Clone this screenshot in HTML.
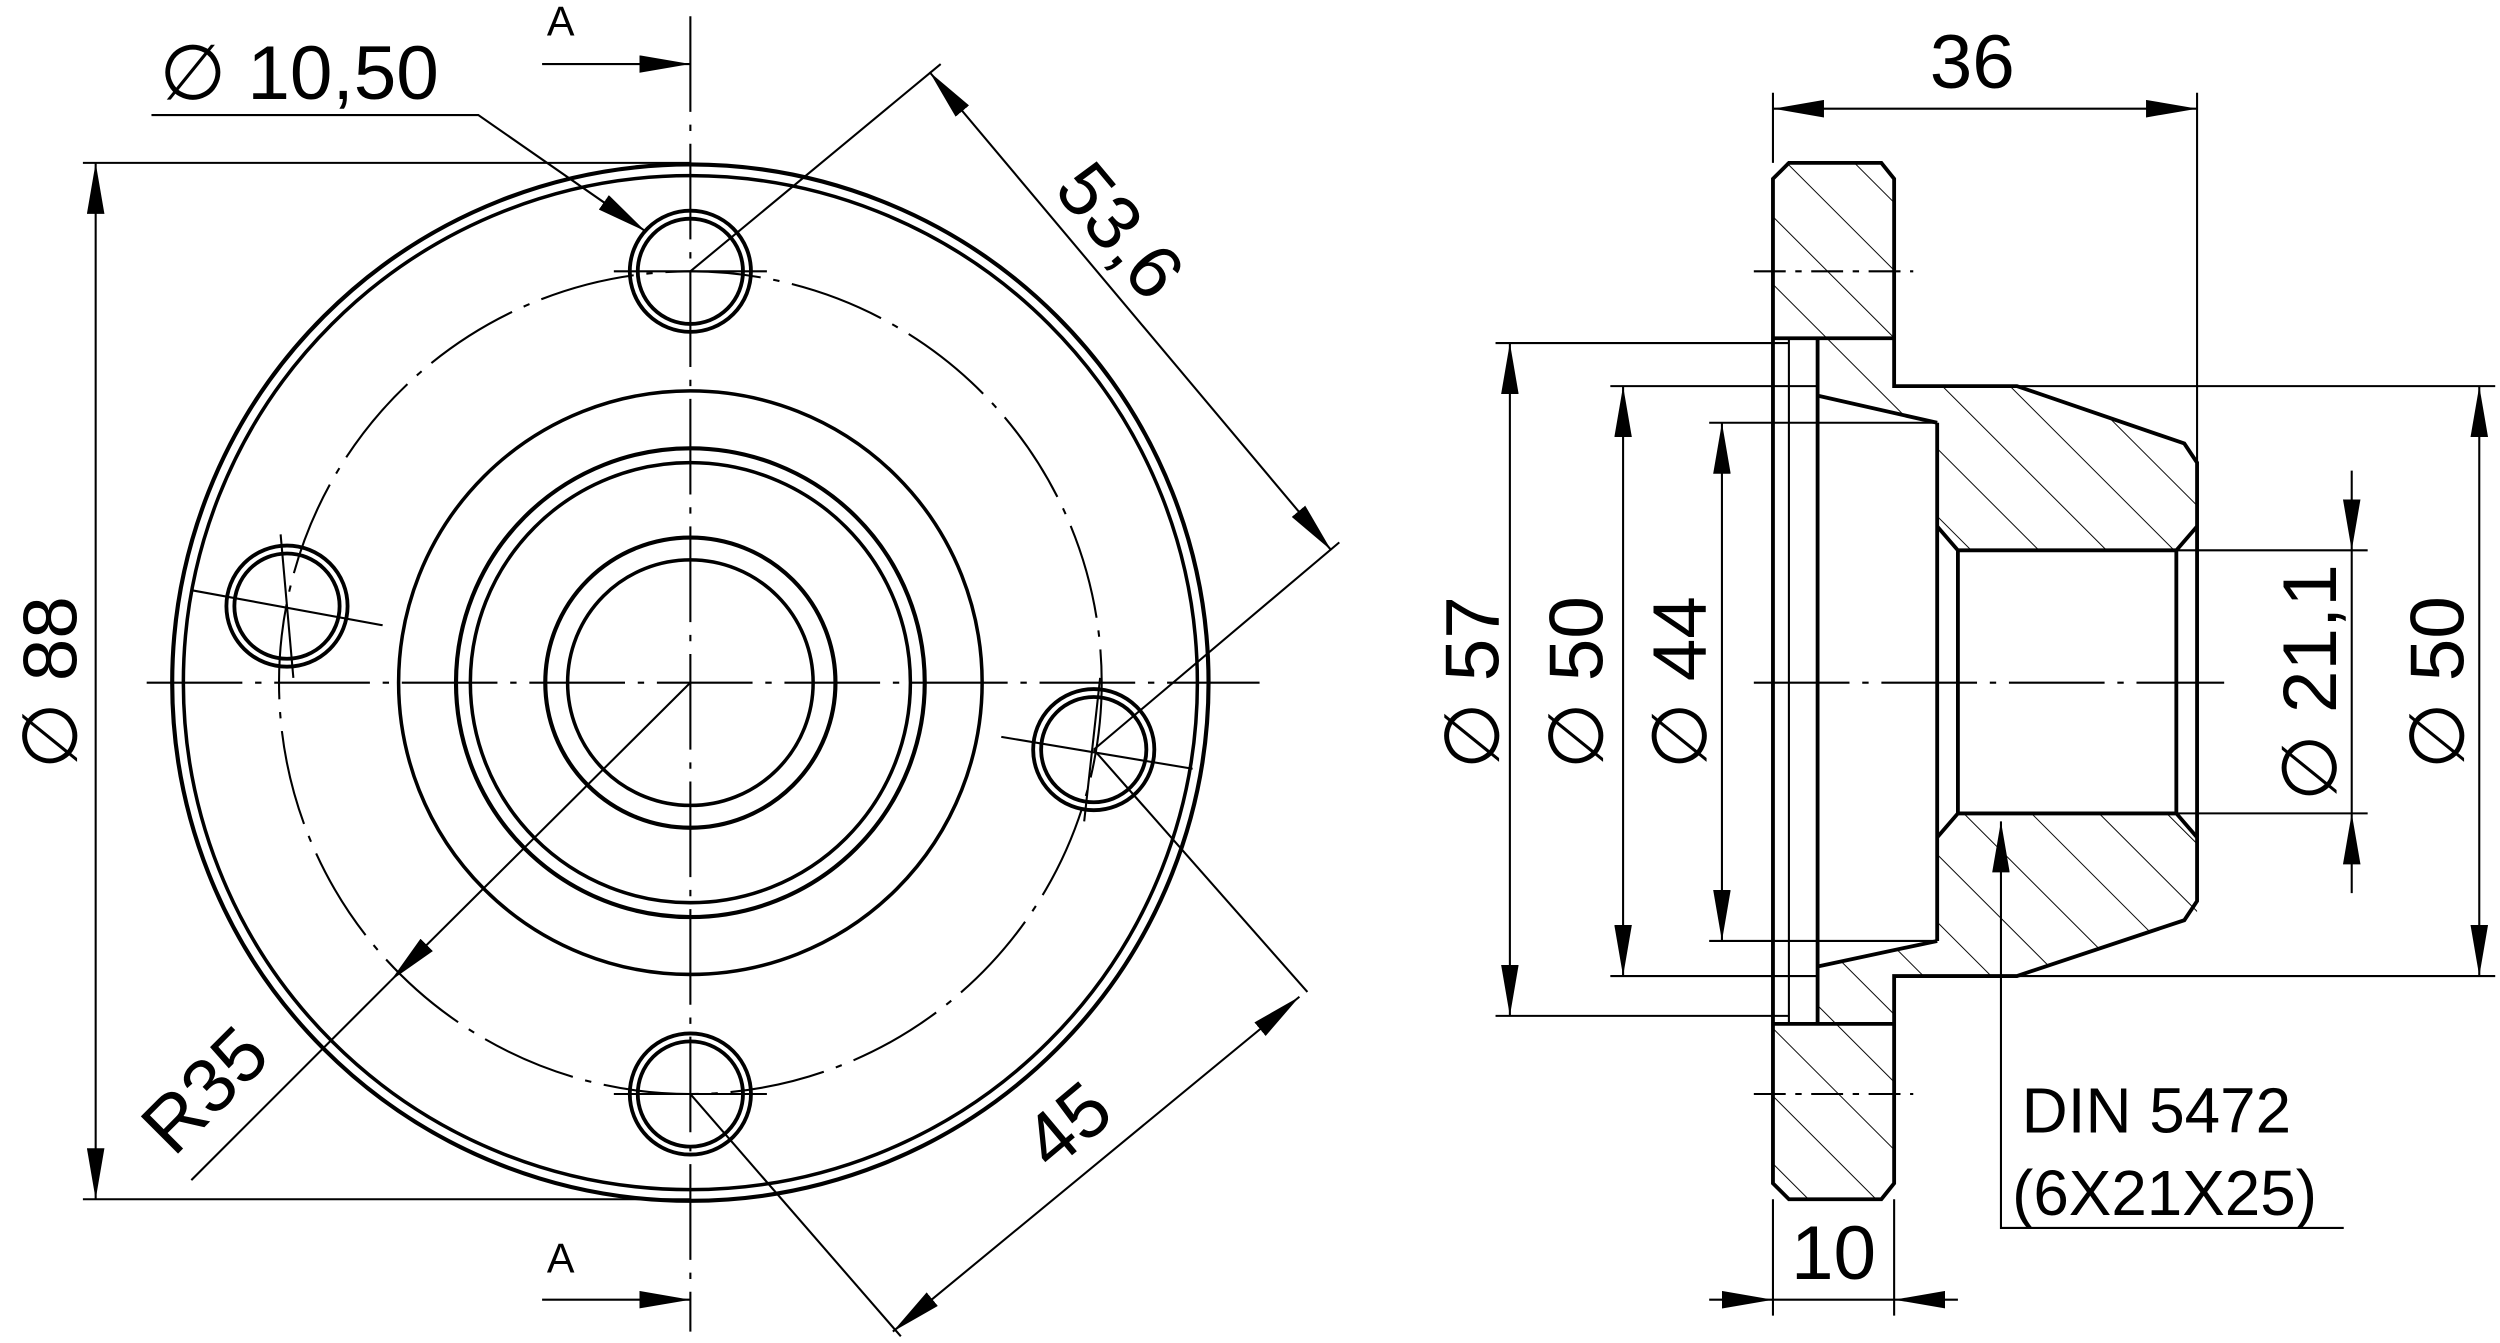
<!DOCTYPE html>
<html><head><meta charset="utf-8">
<style>
html,body{margin:0;padding:0;background:#fff;}
svg{display:block;}
text{font-family:"Liberation Sans","DejaVu Sans",sans-serif;fill:#000;}
</style></head>
<body>
<svg width="2500" height="1343" viewBox="0 0 1568 842" xmlns="http://www.w3.org/2000/svg">
<defs>
<marker id="ar" viewBox="0 0 32 11" refX="32" refY="5.5" markerWidth="32" markerHeight="11" markerUnits="userSpaceOnUse" orient="auto-start-reverse">
<path d="M0,0 L32,5.5 L0,11 Z" fill="#000"/>
</marker>
<pattern id="hat" width="30" height="30" patternUnits="userSpaceOnUse" patternTransform="rotate(-45)">
<line x1="0" y1="0" x2="0" y2="30" stroke="#000" stroke-width="1.2"/>
</pattern>
</defs>
<g fill="none" stroke="#000" stroke-width="2.2">
<!-- LEFT VIEW -->
<circle cx="433" cy="428" r="325" stroke-width="2.6"/>
<circle cx="433" cy="428" r="318"/>
<circle cx="433" cy="428" r="183"/>
<circle cx="433" cy="428" r="147" stroke-width="2.6"/>
<circle cx="433" cy="428" r="138"/>
<circle cx="433" cy="428" r="91" stroke-width="2.6"/>
<circle cx="433" cy="428" r="77"/>
<circle cx="433" cy="428" r="258" stroke-width="1.3" stroke-dasharray="60,8,4,8"/>
<g stroke-width="2.4">
<circle cx="433" cy="170" r="38"/><circle cx="433" cy="170" r="33"/>
<circle cx="433" cy="686" r="38"/><circle cx="433" cy="686" r="33"/>
<circle cx="180" cy="380" r="38"/><circle cx="180" cy="380" r="33"/>
<circle cx="686" cy="470" r="38"/><circle cx="686" cy="470" r="33"/>
</g>
<g stroke-width="1.3">
<line x1="433" y1="10" x2="433" y2="835" stroke-dasharray="60,8,4,8"/>
<line x1="92" y1="428" x2="790" y2="428" stroke-dasharray="60,8,4,8"/>
<line x1="120" y1="370" x2="240" y2="392"/><line x1="176" y1="335" x2="184" y2="425"/>
<line x1="628" y1="462" x2="748" y2="482"/><line x1="690" y1="425" x2="680" y2="515"/>
<line x1="385" y1="170" x2="481" y2="170"/><line x1="385" y1="686" x2="481" y2="686"/>
<line x1="52" y1="102" x2="433" y2="102"/><line x1="52" y1="752" x2="433" y2="752"/>
<line x1="60" y1="102" x2="60" y2="752" marker-start="url(#ar)" marker-end="url(#ar)"/>
<polyline points="95,72 300,72 405,145" marker-end="url(#ar)"/>
<line x1="340" y1="40" x2="433" y2="40" marker-end="url(#ar)"/>
<line x1="340" y1="815" x2="433" y2="815" marker-end="url(#ar)"/>
<line x1="433" y1="170" x2="590" y2="40"/>
<line x1="686" y1="470" x2="840" y2="340"/>
<line x1="583" y1="45" x2="835" y2="345" marker-start="url(#ar)" marker-end="url(#ar)"/>
<line x1="686" y1="470" x2="820" y2="622"/>
<line x1="433" y1="686" x2="565" y2="838"/>
<line x1="815" y1="625" x2="560" y2="835" marker-start="url(#ar)" marker-end="url(#ar)"/>
<line x1="433" y1="428" x2="245" y2="615" marker-end="url(#ar)"/>
<line x1="245" y1="615" x2="120" y2="740"/>
</g>

<!-- RIGHT VIEW -->
<g stroke-width="2.4">
<path d="M1112,102 L1188,102 L1188,212 L1112,212 Z" fill="url(#hat)" stroke="none"/>
<path d="M1112,642 L1188,642 L1188,752 L1112,752 Z" fill="url(#hat)" stroke="none"/>
<path d="M1188,212 L1188,242 L1265,242 L1378,280 L1378,345 L1228,345 L1215,330 L1215,265 L1140,248 L1140,212 Z" fill="url(#hat)" stroke="none"/>
<path d="M1188,642 L1188,612 L1265,612 L1378,575 L1378,510 L1228,510 L1215,525 L1215,590 L1140,606 L1140,642 Z" fill="url(#hat)" stroke="none"/>
<path d="M1122,102 L1180,102 L1188,112 L1188,242 L1265,242 L1370,278 L1378,290 L1378,565 L1370,577 L1265,612 L1188,612 L1188,742 L1180,752 L1122,752 L1112,742 L1112,112 Z"/>
<line x1="1112" y1="212" x2="1188" y2="212"/>
<line x1="1112" y1="642" x2="1188" y2="642"/>
<line x1="1140" y1="212" x2="1140" y2="642"/>
<line x1="1122" y1="212" x2="1122" y2="642" stroke-width="1.3"/>
<line x1="1140" y1="248" x2="1215" y2="265"/>
<line x1="1140" y1="606" x2="1215" y2="590"/>
<line x1="1215" y1="265" x2="1215" y2="590"/>
<path d="M1215,330 L1228,345 L1365,345 L1378,330"/>
<path d="M1215,525 L1228,510 L1365,510 L1378,525"/>
<line x1="1228" y1="345" x2="1228" y2="510"/>
<line x1="1365" y1="345" x2="1365" y2="510"/>
</g>
<g stroke-width="1.3">
<line x1="1100" y1="428" x2="1395" y2="428" stroke-dasharray="60,8,4,8"/>
<line x1="1100" y1="170" x2="1200" y2="170" stroke-dasharray="20,6,4,6"/>
<line x1="1100" y1="686" x2="1200" y2="686" stroke-dasharray="20,6,4,6"/>
<line x1="1112" y1="58" x2="1112" y2="102"/><line x1="1378" y1="58" x2="1378" y2="290"/>
<line x1="1112" y1="68" x2="1378" y2="68" marker-start="url(#ar)" marker-end="url(#ar)"/>
<line x1="938" y1="215" x2="1122" y2="215"/><line x1="938" y1="637" x2="1122" y2="637"/>
<line x1="947" y1="215" x2="947" y2="637" marker-start="url(#ar)" marker-end="url(#ar)"/>
<line x1="1010" y1="242" x2="1140" y2="242"/><line x1="1010" y1="612" x2="1140" y2="612"/>
<line x1="1018" y1="242" x2="1018" y2="612" marker-start="url(#ar)" marker-end="url(#ar)"/>
<line x1="1072" y1="265" x2="1215" y2="265"/><line x1="1072" y1="590" x2="1215" y2="590"/>
<line x1="1080" y1="265" x2="1080" y2="590" marker-start="url(#ar)" marker-end="url(#ar)"/>
<line x1="1365" y1="345" x2="1485" y2="345"/><line x1="1365" y1="510" x2="1485" y2="510"/>
<line x1="1475" y1="295" x2="1475" y2="345" marker-end="url(#ar)"/>
<line x1="1475" y1="560" x2="1475" y2="510" marker-end="url(#ar)"/>
<line x1="1475" y1="345" x2="1475" y2="510"/>
<line x1="1265" y1="242" x2="1565" y2="242"/><line x1="1265" y1="612" x2="1565" y2="612"/>
<line x1="1555" y1="242" x2="1555" y2="612" marker-start="url(#ar)" marker-end="url(#ar)"/>
<line x1="1112" y1="752" x2="1112" y2="825"/><line x1="1188" y1="752" x2="1188" y2="825"/>
<line x1="1072" y1="815" x2="1112" y2="815" marker-end="url(#ar)"/>
<line x1="1228" y1="815" x2="1188" y2="815" marker-end="url(#ar)"/>
<line x1="1112" y1="815" x2="1188" y2="815"/>
<polyline points="1470,770 1255,770 1255,515" marker-end="url(#ar)"/>
</g>
</g>

<g font-size="48">
<text x="100" y="62">∅ 10,50</text>
<text x="343" y="22" font-size="26">A</text>
<text x="343" y="798" font-size="26">A</text>
<text transform="translate(48,428) rotate(-90)" text-anchor="middle">∅ 88</text>
<text transform="translate(690,155) rotate(50)" text-anchor="middle">53,6</text>
<text transform="translate(680,718) rotate(-40)" text-anchor="middle">45</text>
<text transform="translate(140,695) rotate(-45)" text-anchor="middle">R35</text>
<text x="1237" y="55" text-anchor="middle">36</text>
<text transform="translate(940,428) rotate(-90)" text-anchor="middle">∅ 57</text>
<text transform="translate(1005,428) rotate(-90)" text-anchor="middle">∅ 50</text>
<text transform="translate(1070,428) rotate(-90)" text-anchor="middle">∅ 44</text>
<text transform="translate(1465,428) rotate(-90)" text-anchor="middle">∅ 21,1</text>
<text transform="translate(1545,428) rotate(-90)" text-anchor="middle">∅ 50</text>
<text x="1150" y="802" text-anchor="middle">10</text>
<text x="1268" y="710" font-size="40">DIN 5472</text>
<text x="1262" y="762" font-size="40">(6X21X25)</text>
</g>
</svg>
</body></html>
